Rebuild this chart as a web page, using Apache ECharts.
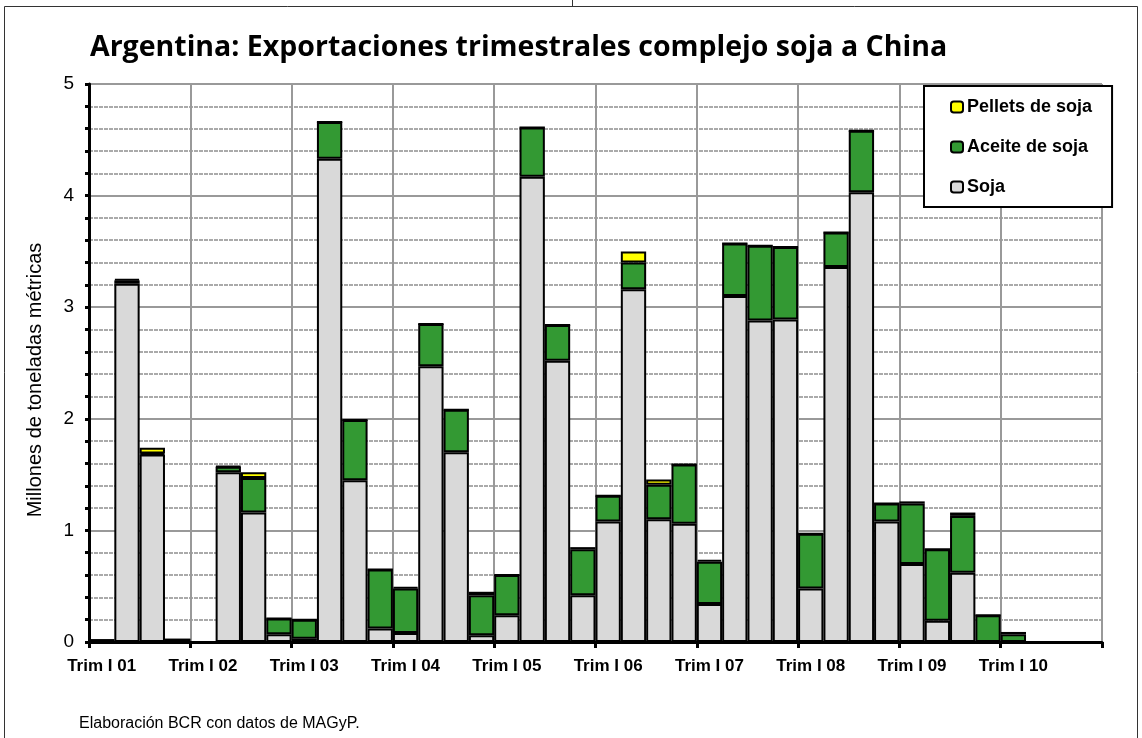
<!DOCTYPE html>
<html><head><meta charset="utf-8">
<script src="https://cdn.jsdelivr.net/npm/echarts@6/dist/echarts.min.js"></script>
<style>html,body{margin:0;padding:0;background:#fff}#c{width:1142px;height:738px}</style>
</head><body><div id="c"></div>
<script>
const years = ['01','02','03','04','05','06','07','08','09','10'];
const quarterNames = ['I','II','III','IV'];
const categories = [];
years.forEach(y => quarterNames.forEach(q => categories.push('Trim ' + q + ' ' + y)));

const soja = [0.015, 3.21, 1.68, 0.02, 0, 1.52, 1.16, 0.07, 0.03, 4.33, 1.45, 0.12, 0.08, 2.47, 1.70, 0.06, 0.24, 4.17, 2.52, 0.42, 1.08, 3.16, 1.10, 1.06, 0.34, 3.10, 2.88, 2.89, 0.48, 3.36, 4.03, 1.08, 0.70, 0.19, 0.62, 0, 0, 0, 0, 0];
const aceite = [0, 0.03, 0.01, 0, 0, 0.05, 0.31, 0.14, 0.17, 0.33, 0.54, 0.53, 0.40, 0.38, 0.38, 0.36, 0.36, 0.44, 0.32, 0.41, 0.23, 0.24, 0.31, 0.53, 0.38, 0.47, 0.67, 0.65, 0.49, 0.31, 0.55, 0.16, 0.54, 0.64, 0.51, 0.24, 0.07, 0, 0, 0];
const pellets = [0, 0.01, 0.05, 0, 0, 0.005, 0.05, 0, 0, 0, 0, 0, 0.01, 0, 0, 0.03, 0, 0, 0, 0.02, 0, 0.10, 0.045, 0, 0.015, 0, 0, 0, 0, 0, 0, 0, 0.02, 0, 0.03, 0, 0.02, 0, 0, 0];

const NARROW = '"Liberation Sans Narrow","Arial Narrow","Liberation Sans",sans-serif';
const chart = echarts.init(document.getElementById('c'), null, {renderer: 'canvas'});
const barStyle = c => ({color: c, borderColor: '#000', borderWidth: 2});
chart.setOption({
  animation: false,
  backgroundColor: '#fff',
  title: [{
    text: 'Argentina: Exportaciones trimestrales complejo soja a China',
    left: 85, top: 28,
    textStyle: {fontFamily: '"Open Sans", Lato, sans-serif', fontWeight: 'bold', fontSize: 28.5, color: '#000'}
  }, {
    text: 'Elaboración BCR con datos de MAGyP.',
    left: 74, top: 711,
    textStyle: {fontFamily: NARROW, fontWeight: 'normal', fontSize: 16, color: '#000'}
  }],
  legend: {
    orient: 'vertical',
    left: 924, top: 86,
    padding: [12, 20, 11, 26],
    itemGap: 22,
    itemWidth: 12, itemHeight: 11,
    borderColor: '#000', borderWidth: 2,
    backgroundColor: '#fff',
    data: ['Pellets de soja', 'Aceite de soja', 'Soja'],
    textStyle: {fontFamily: NARROW, fontWeight: 'bold', fontSize: 18, color: '#000', padding: [0,0,0,-1]},
    itemStyle: {borderColor: '#000', borderWidth: 2}
  },
  grid: {left: 89, right: 40, top: 84, bottom: 96, containLabel: false},
  xAxis: {
    type: 'category',
    data: categories,
    boundaryGap: true,
    axisLine: {lineStyle: {color: '#000', width: 3}},
    axisTick: {show: true, interval: 3, length: 6, lineStyle: {color: '#000', width: 3}},
    axisLabel: {
      interval: 3, margin: 16,
      fontFamily: NARROW, fontWeight: 'bold', fontSize: 17, color: '#000',
      formatter: v => v.replace(/Trim \w+ /, 'Trim I ')
    },
    splitLine: {show: true, interval: 3, lineStyle: {color: '#999', width: 2}}
  },
  yAxis: {
    type: 'value', min: 0, max: 5, interval: 1,
    axisLine: {show: true, lineStyle: {color: '#000', width: 3}},
    axisTick: {show: true, length: 4, lineStyle: {color: '#000', width: 3}},
    minorTick: {show: true, splitNumber: 5, length: 4, lineStyle: {color: '#000', width: 3}},
    axisLabel: {margin: 15, fontFamily: NARROW, fontSize: 19, color: '#000'},
    splitLine: {show: true, lineStyle: {color: '#999', width: 2}},
    minorSplitLine: {show: true, lineStyle: {color: '#aaa', width: 2, type: [4, 1]}}
  },
  series: [
    {name: 'Soja', type: 'bar', stack: 't', data: soja, barCategoryGap: '0%', itemStyle: barStyle('#d9d9d9')},
    {name: 'Aceite de soja', type: 'bar', stack: 't', data: aceite, itemStyle: barStyle('#339933')},
    {name: 'Pellets de soja', type: 'bar', stack: 't', data: pellets, itemStyle: barStyle('#ffff00')}
  ],
  graphic: [
    {type: 'rect', shape: {x: 4.5, y: 6.5, width: 1133, height: 760}, style: {fill: null, stroke: '#333', lineWidth: 1}, silent: true},
    {type: 'line', shape: {x1: 572.5, y1: 0, x2: 572.5, y2: 6}, style: {stroke: '#333', lineWidth: 1}, silent: true},
    {type: 'text', x: 35, y: 380, rotation: Math.PI / 2,
     style: {text: 'Millones de toneladas métricas', fontFamily: NARROW, fontSize: 20, fill: '#000', align: 'center', verticalAlign: 'middle'}, silent: true}
  ]
});
</script></body></html>
